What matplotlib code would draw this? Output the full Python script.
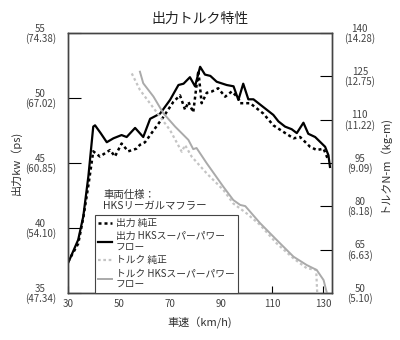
import matplotlib
matplotlib.use("Agg")
import matplotlib.pyplot as plt

plt.rcParams['font.family'] = ['Noto Sans CJK JP', 'DejaVu Sans']

# Power HKS (kW)
pw_hks_x = [30, 34, 36, 38, 39.9, 40.6, 42.8, 45.2, 47.8, 51, 53, 56.3, 59.5, 62.2, 66.1, 70,
            73.3, 75.3, 77.8, 79.8, 81.8, 83.7, 85.8, 88.3, 92.2, 94.9, 96.8, 98.7, 100.7, 102.7,
            105.3, 107.9, 110.5, 112.5, 115.1, 117.7, 119.7, 122.3, 124.2, 126.9, 129.5, 130.8, 132.1, 132.7]
pw_hks_y = [37.3, 39.1, 40.9, 44.0, 47.8, 47.9, 47.3, 46.6, 46.9, 47.15, 47.0, 47.7, 47.0, 48.4, 48.8, 49.85,
            51.0, 51.1, 51.6, 50.9, 52.4, 51.8, 51.7, 51.25, 51.0, 50.9, 49.85, 51.1, 49.9, 49.9,
            49.5, 49.1, 48.7, 48.2, 47.8, 47.6, 47.3, 48.1, 47.25, 47.0, 46.5, 46.25, 45.6, 44.7]
# Power stock (kW)
pw_std_x = [30, 34, 36, 38, 39.9, 42.5, 44.5, 46.5, 48.4, 51, 53.6, 56.8, 58.2, 60.2, 63.5, 67.4,
            71.3, 73.9, 75.9, 77.2, 79.1, 81.1, 82.4, 84.4, 86.4, 88.9, 91.6, 94.2, 96.8, 97.5,
            101.4, 104, 106.6, 110.5, 114.4, 118.4, 121, 124.9, 127.5, 130.2, 132.1]
pw_std_y = [37.4, 38.8, 40.8, 43.3, 45.9, 45.5, 45.75, 46.0, 45.5, 46.5, 45.9, 46.1, 46.4, 46.6, 47.5, 48.55,
            49.7, 50.2, 49.1, 49.7, 48.9, 52.1, 49.6, 50.4, 50.5, 50.75, 50.1, 50.5, 50.0, 49.6,
            49.6, 49.2, 48.8, 47.9, 47.4, 46.9, 47.0, 46.25, 46.0, 46.1, 45.2]
# Torque HKS (N-m)
tq_hks_x = [58.2, 59.5, 63.5, 67.4, 72, 77.2, 79.1, 80.4, 84.4, 90.9, 94.8, 97.5, 99.5, 105.3,
            111.8, 118.4, 123.6, 127.5, 130.2, 131.5]
tq_hks_y = [126.6, 122.6, 118, 112.2, 107.6, 103, 99.8, 100.2, 94.9, 86.8, 82.2, 80.5, 80.1, 74.2,
            68.4, 62.6, 59.7, 58, 54.5, 50]
# Torque stock (N-m)
tq_std_x = [55, 58.2, 62.1, 66.1, 70, 74.6, 75.9, 78.5, 84.4, 90.9, 94.8, 100, 105.3,
            111.8, 118.4, 123.6, 127.3, 127.7]
tq_std_y = [126, 120.3, 115.7, 111, 106.4, 98.9, 101.2, 97.2, 91.4, 85.7, 81, 77.6, 73.6,
            67.2, 62, 58.6, 58, 50]

x_ticks = [30, 50, 70, 90, 110, 130]
left_ticks = [35, 40, 45, 50, 55]
left_labels = ['35\n(47.34)', '40\n(54.10)', '45\n(60.85)', '50\n(67.02)', '55\n(74.38)']
right_ticks = [50, 65, 80, 95, 110, 125, 140]
right_labels = ['50\n(5.10)', '65\n(6.63)', '80\n(8.18)', '95\n(9.09)', '110\n(11.22)', '125\n(12.75)', '140\n(14.28)']

fig = plt.figure(figsize=(4, 3.4), dpi=100)
ax = fig.add_axes([0.17, 0.138, 0.66, 0.765])
ax2 = ax.twinx()

c_hks_t = '#aaaaaa'
c_std_t = '#c4c4c4'
l1, = ax.plot(pw_std_x, pw_std_y, color='black', lw=1.8, ls=(0, (1.2, 1.2)))
l2, = ax.plot(pw_hks_x, pw_hks_y, color='black', lw=1.6)
l3, = ax2.plot(tq_std_x, tq_std_y, color=c_std_t, lw=1.6, ls=(0, (1.2, 1.2)))
l4, = ax2.plot(tq_hks_x, tq_hks_y, color=c_hks_t, lw=1.4)

ax.set_xlim(30, 133.5)
ax.set_ylim(35, 55)
ax2.set_ylim(50, 140)

tc = '#444444'
ax.set_xticks(x_ticks)
ax.set_yticks(left_ticks)
ax.set_yticklabels(left_labels)
ax2.set_yticks(right_ticks)
ax2.set_yticklabels(right_labels)
ax.tick_params(axis='x', direction='in', length=5, labelsize=7, labelcolor=tc, pad=4)
ax.tick_params(axis='y', direction='in', length=9, labelsize=7, labelcolor=tc, pad=20)
ax2.tick_params(axis='y', direction='in', length=9, labelsize=7, labelcolor=tc, pad=20)
for lab in ax.get_yticklabels() + ax2.get_yticklabels():
    lab.set_horizontalalignment('center')
    lab.set_linespacing(0.95)

for a in (ax, ax2):
    for s in a.spines.values():
        s.set_color('#444444')
        s.set_linewidth(1.0)

ax.set_xlabel('車速（km/h)', fontsize=8, color='#333333', labelpad=6)
ax.set_ylabel('出力kw（ps)', fontsize=8, color='#333333', labelpad=2)
ax2.set_ylabel('トルクN-m（kg-m)', fontsize=8, color='#333333', labelpad=2)
fig.text(0.5, 0.945, '出力トルク特性', ha='center', va='center', fontsize=10, color='#222222')

fig.text(0.258, 0.41, '車両仕様：\nHKSリーガルマフラー', fontsize=7.5, color='#333333',
         va='center', ha='left', linespacing=1.1)

handles = [l1, l2, l3, l4]
labels = ['出力 純正', '出力 HKSスーパーパワー\nフロー', 'トルク 純正', 'トルク HKSスーパーパワー\nフロー']
leg = ax2.legend(handles, labels, loc='upper left', bbox_to_anchor=(0.237, 0.368), bbox_transform=fig.transFigure,
                 fontsize=7, frameon=True, fancybox=False, framealpha=1, edgecolor='#444444',
                 handlelength=1.4, handletextpad=0.4, borderpad=0.35, labelspacing=0.3, borderaxespad=0)
leg.get_frame().set_linewidth(0.8)
for t in leg.get_texts():
    t.set_color('#333333')
    t.set_linespacing(1.15)

fig.savefig('out.png', dpi=100)
